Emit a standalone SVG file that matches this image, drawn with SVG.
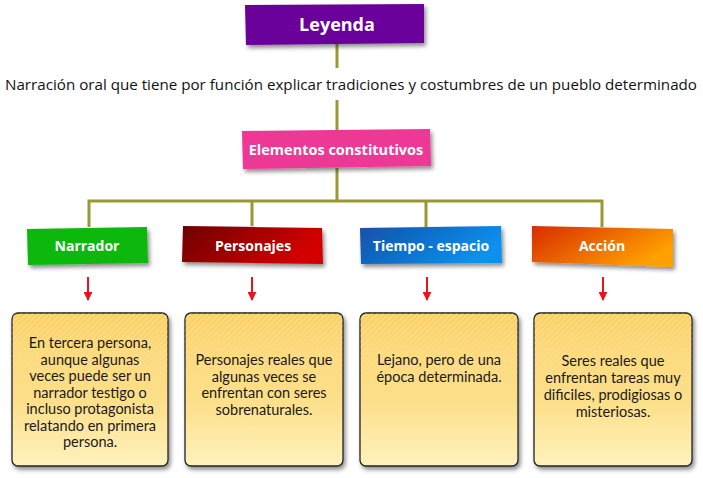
<svg xmlns="http://www.w3.org/2000/svg" width="703" height="478" viewBox="0 0 703 478">
<defs>
<style>
.hd{font-family:"Open Sans","Liberation Sans",sans-serif;font-weight:bold;fill:#fff;text-anchor:middle}
.bt{font-family:Lato,"Liberation Sans",sans-serif;font-size:14.5px;fill:#1a1a1a;text-anchor:middle}
.conn{stroke:#999933;stroke-width:3;fill:none}
.arr{stroke:#e8141c;stroke-width:2;fill:none}
.card{fill:url(#yel);stroke:#222;stroke-width:1.3}
</style>
<filter id="sh" x="-10%" y="-20%" width="125%" height="150%">
<feDropShadow dx="2" dy="3" stdDeviation="2" flood-color="#000" flood-opacity="0.45"/>
</filter>
<linearGradient id="yel" x1="0" y1="0" x2="0" y2="1">
<stop offset="0" stop-color="#fbcf5e"/>
<stop offset="0.25" stop-color="#fdd97a"/>
<stop offset="0.6" stop-color="#fde08c"/>
<stop offset="1" stop-color="#fff2bd"/>
</linearGradient>
<pattern id="stripe" width="4" height="4" patternUnits="userSpaceOnUse" patternTransform="rotate(-45)">
<rect width="4" height="1.3" fill="#fff" fill-opacity="0.35"/>
</pattern>
<linearGradient id="stripeFade" x1="0" y1="0" x2="0" y2="1">
<stop offset="0" stop-color="#fff"/>
<stop offset="0.55" stop-color="#fff" stop-opacity="0"/>
</linearGradient>
<mask id="fadeMask"><rect x="0" y="300" width="703" height="170" fill="url(#stripeFade)"/></mask>
<linearGradient id="gPer" x1="0" y1="0" x2="1" y2="0.3">
<stop offset="0" stop-color="#6e0000"/>
<stop offset="1" stop-color="#d40000"/>
</linearGradient>
<linearGradient id="gTie" x1="0" y1="0" x2="1" y2="0.4">
<stop offset="0" stop-color="#1450a8"/>
<stop offset="1" stop-color="#0a90ee"/>
</linearGradient>
<linearGradient id="gAcc" x1="0" y1="0" x2="1" y2="0.5">
<stop offset="0" stop-color="#d82c00"/>
<stop offset="1" stop-color="#ffa000"/>
</linearGradient>
<marker id="ah" viewBox="0 0 10 10" refX="9" refY="5" markerWidth="9" markerHeight="9" markerUnits="userSpaceOnUse" orient="auto">
<path d="M0,0 L10,5 L0,10 z" fill="#e8141c"/>
</marker>
</defs>
<rect width="703" height="478" fill="#fff"/>

<g id="connectors">
<line class="conn" x1="337" y1="44" x2="337" y2="68"/>
<line class="conn" x1="337" y1="100" x2="337" y2="130"/>
<line class="conn" x1="337" y1="168" x2="337" y2="201"/>
<polyline class="conn" points="89,227 89,201 602,201 602,227"/>
<line class="conn" x1="252" y1="201" x2="252" y2="226"/>
<line class="conn" x1="426" y1="201" x2="426" y2="227"/>
<line class="arr" x1="88" y1="277" x2="88" y2="300" marker-end="url(#ah)"/>
<line class="arr" x1="252" y1="277" x2="252" y2="300" marker-end="url(#ah)"/>
<line class="arr" x1="427" y1="277" x2="427" y2="300" marker-end="url(#ah)"/>
<line class="arr" x1="603" y1="277" x2="603" y2="300" marker-end="url(#ah)"/>
</g>

<g id="leyenda">
<polygon points="245,5 424,4 424,43 246,45" fill="#6a0099" filter="url(#sh)"/>
<text class="hd" x="337" y="31" font-size="18">Leyenda</text>
</g>

<g id="definicion">
<text x="5" y="90" font-family="Open Sans, Liberation Sans, sans-serif" font-size="14" fill="#111" textLength="692" lengthAdjust="spacingAndGlyphs">Narración oral que tiene por función explicar tradiciones y costumbres de un pueblo determinado</text>
</g>

<g id="elementos">
<polygon points="242,131 430,129 431,166 243,169" fill="#ee3795" filter="url(#sh)"/>
<text class="hd" x="336" y="155" font-size="14.5">Elementos constitutivos</text>
</g>

<g id="narrador">
<polygon points="27,229 147,227 148,263 28,265" fill="#0cb80c" filter="url(#sh)"/>
<text class="hd" x="87" y="251" font-size="14">Narrador</text>
</g>

<g id="personajes">
<polygon points="183,226 322,228 323,264 182,262" fill="url(#gPer)" filter="url(#sh)"/>
<text class="hd" x="253" y="251" font-size="14">Personajes</text>
</g>

<g id="tiempo">
<polygon points="360,228 501,226 502,263 361,264" fill="url(#gTie)" filter="url(#sh)"/>
<text class="hd" x="431" y="251" font-size="14">Tiempo - espacio</text>
</g>

<g id="accion">
<polygon points="532,226 673,229 673,267 532,262" fill="url(#gAcc)" filter="url(#sh)"/>
<text class="hd" x="602" y="251" font-size="14">Acción</text>
</g>

<g id="card1">
<rect class="card" x="12" y="313" width="156" height="153" rx="6" filter="url(#sh)"/>
<rect x="12" y="313" width="156" height="153" rx="6" fill="url(#stripe)" mask="url(#fadeMask)"/>
<text class="bt" x="90" y="348">En tercera persona,</text>
<text class="bt" x="90" y="364.5">aunque algunas</text>
<text class="bt" x="90" y="381">veces puede ser un</text>
<text class="bt" x="90" y="397.5">narrador testigo o</text>
<text class="bt" x="90" y="414">incluso protagonista</text>
<text class="bt" x="90" y="430.5">relatando en primera</text>
<text class="bt" x="90" y="447">persona.</text>
</g>

<g id="card2">
<rect class="card" x="185" y="313" width="158" height="153" rx="6" filter="url(#sh)"/>
<rect x="185" y="313" width="158" height="153" rx="6" fill="url(#stripe)" mask="url(#fadeMask)"/>
<text class="bt" x="264" y="365">Personajes reales que</text>
<text class="bt" x="264" y="381.5">algunas veces se</text>
<text class="bt" x="264" y="398">enfrentan con seres</text>
<text class="bt" x="264" y="414.5">sobrenaturales.</text>
</g>

<g id="card3">
<rect class="card" x="360" y="313" width="158" height="153" rx="6" filter="url(#sh)"/>
<rect x="360" y="313" width="158" height="153" rx="6" fill="url(#stripe)" mask="url(#fadeMask)"/>
<text class="bt" x="439" y="365">Lejano, pero de una</text>
<text class="bt" x="439" y="381.5">época determinada.</text>
</g>

<g id="card4">
<rect class="card" x="534" y="313" width="158" height="153" rx="6" filter="url(#sh)"/>
<rect x="534" y="313" width="158" height="153" rx="6" fill="url(#stripe)" mask="url(#fadeMask)"/>
<text class="bt" x="613" y="366">Seres reales que</text>
<text class="bt" x="613" y="383">enfrentan tareas muy</text>
<text class="bt" x="613" y="400">dificiles, prodigiosas o</text>
<text class="bt" x="613" y="417">misteriosas.</text>
</g>
</svg>
